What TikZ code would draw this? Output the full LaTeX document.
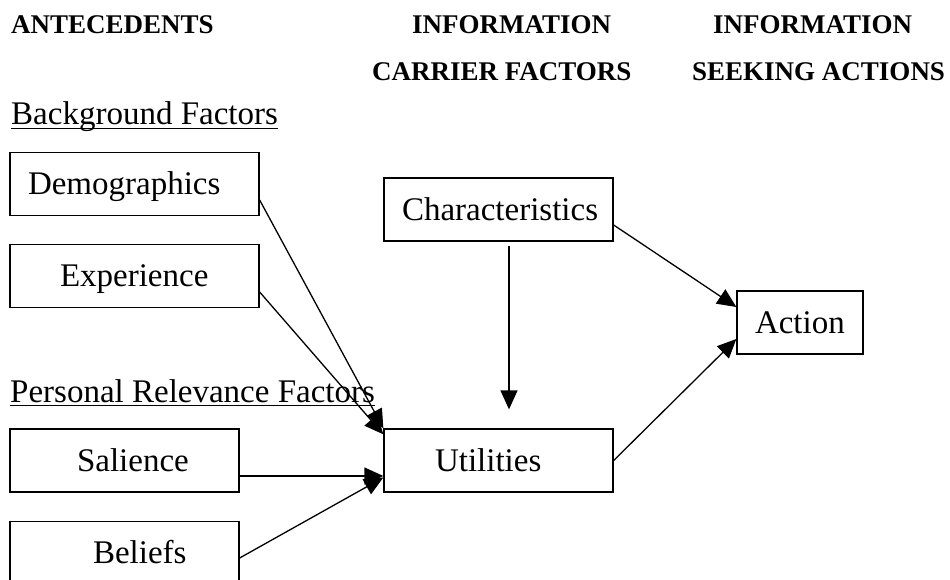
\documentclass[tikz,border=0pt]{standalone}
\usepackage{fontspec}
\setmainfont{Liberation Serif}
\usetikzlibrary{arrows.meta,positioning}

\begin{document}
\begin{tikzpicture}[x=1pt, y=-1pt,
        hdr/.style={anchor=base west, inner sep=0pt, font=\fontsize{27}{32}\selectfont\bfseries},
        grp/.style={anchor=base west, inner sep=0pt, font=\fontsize{33}{40}\selectfont},
        factor/.style={draw, line width=1.3pt, inner xsep=18pt, inner ysep=0pt, minimum height=63pt, text height=24pt, text depth=3pt, align=left, font=\fontsize{33}{40}\selectfont},
        uline/.style={line width=1.5pt},
        link/.style={line width=1.3pt, -{Triangle[length=19pt,width=17pt]}}]
        \useasboundingbox (0,0) rectangle (950,580);
        \node[hdr] (ante) at (11,34) {ANTECEDENTS};
        \node[hdr] (carrinfo) at (412,34) {INFORMATION};
        \node[hdr] (carr) at (372,81) {CARRIER FACTORS};
        \node[hdr] (seekinfo) at (713,34) {INFORMATION};
        \node[hdr] (seek) at (692,81) {SEEKING ACTIONS};
        \node[grp] (bg) at (11,125) {Background Factors};
        \node[grp] (pers) at (10,402) {Personal Relevance Factors};
        \foreach \g in {bg,pers}{\draw[uline] ([yshift=-3.5pt]\g.base west) -- ([yshift=-3.5pt]\g.base east);}
        \node[factor, text width=213pt] (demo) at (134.5,184) {Demographics};
        \node[factor, text width=213pt] (exp) at (134.5,276) {\hspace*{32pt}Experience};
        \node[factor, text width=193pt] (sal) at (124.5,460.5) {\hspace*{49pt}Salience};
        \node[factor, text width=193pt] (bel) at (124.5,553) {\hspace*{65pt}Beliefs};
        \node[factor, text width=193pt] (char) at (498.5,209.5) {Characteristics};
        \node[factor, text width=193pt] (util) at (498.5,460.5) {\hspace*{33pt}Utilities};
        \node[factor, text width=90pt] (act) at (800,322.5) {Action};
        \draw[link] ([yshift=-16pt]demo.east) -- (util.north west);
        \draw[link] ([yshift=-16pt]exp.east) -- ([yshift=-6pt]util.north west);
        \draw[link] ([yshift=-15.5pt]sal.east) -- ([yshift=-15.5pt]util.west);
        \draw[link] ([yshift=-5pt]bel.east) -- ([yshift=-17pt]util.west);
        \draw[link] ([xshift=10.5pt,yshift=-4pt]char.south) -- ([xshift=10.5pt,yshift=19pt]util.north);
        \draw[link] ([yshift=-15.5pt]char.east) -- ([yshift=15.5pt]act.west);
        \draw[link] (util.east) -- ([yshift=-16.5pt]act.west);
\end{tikzpicture}
\end{document}
